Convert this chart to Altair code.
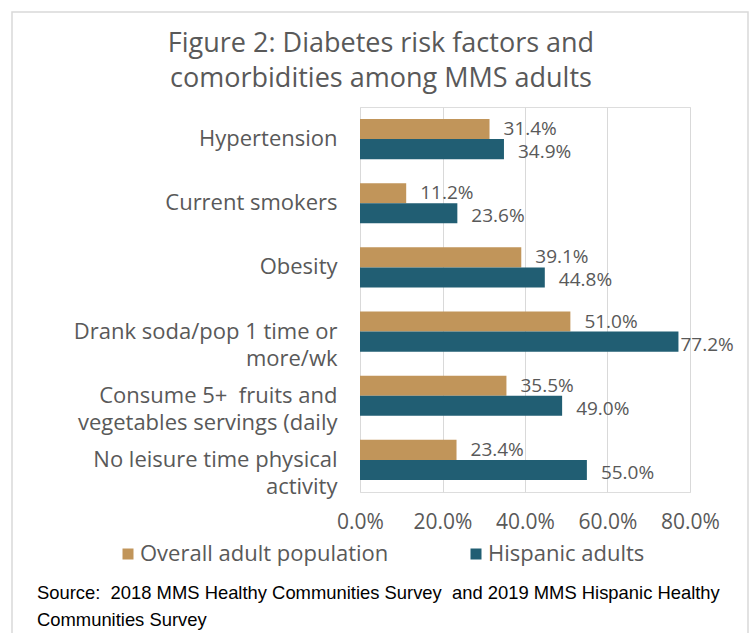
import altair as alt
import pandas as pd

NBSP = "\u00a0"

# Risk factors (top to bottom); "\n" marks a wrapped axis label
categories = [
    "Hypertension",
    "Current smokers",
    "Obesity",
    "Drank soda/pop 1 time or\nmore/wk",
    "Consume 5+ " + NBSP + "fruits and\nvegetables servings (daily",
    "No leisure time physical\nactivity",
]
series_names = ["Overall adult population", "Hispanic adults"]
overall = [0.314, 0.112, 0.391, 0.510, 0.355, 0.234]
hispanic = [0.349, 0.236, 0.448, 0.772, 0.490, 0.550]
x_ticks = [0.0, 0.2, 0.4, 0.6, 0.8]
colors = ["#C1955A", "#215E73"]

title_text = "Figure 2: Diabetes risk factors and\ncomorbidities among MMS adults"
source_text = ("Source: " + NBSP + "2018 MMS Healthy Communities Survey " + NBSP
               + "and 2019 MMS Hispanic Healthy\nCommunities Survey")

rows = []
for cat, a, b in zip(categories, overall, hispanic):
    rows.append({"factor": cat, "series": series_names[0], "value": a})
    rows.append({"factor": cat, "series": series_names[1], "value": b})
df = pd.DataFrame(rows)

GRAY = "#595959"

y_enc = alt.Y(
    "factor:N",
    sort=categories,
    scale=alt.Scale(paddingInner=0.375, paddingOuter=0.1875),
    axis=alt.Axis(
        title=None,
        domain=False,
        ticks=False,
        tickSize=0,
        labelPadding=23,
        labelExpr="split(datum.value, '\\n')",
        labelFont="Open Sans",
        labelFontSize=22,
        labelColor=GRAY,
        labelLineHeight=27,
        labelLimit=400,
    ),
)
x_enc = alt.X(
    "value:Q",
    scale=alt.Scale(domain=[0, 0.8], nice=False),
    axis=alt.Axis(
        title=None,
        values=x_ticks,
        format=".1%",
        domain=False,
        ticks=False,
        tickSize=0,
        labelPadding=19,
        labelOverlap=False,
        labelFlush=False,
        labelFont="Open Sans",
        labelFontSize=21,
        labelColor=GRAY,
        gridColor="#D9D9D9",
        gridWidth=1,
    ),
)
yoff = alt.YOffset("series:N", sort=series_names)

base = alt.Chart(df).encode(y=y_enc, yOffset=yoff)

bars = base.mark_bar().encode(
    x=x_enc,
    color=alt.Color(
        "series:N",
        sort=series_names,
        scale=alt.Scale(domain=series_names, range=colors),
        legend=alt.Legend(
            title=None,
            orient="none",
            direction="horizontal",
            legendX=-243,
            legendY=436,
            symbolType="square",
            symbolSize=121,
            symbolStrokeWidth=0,
            symbolOpacity=1,
            labelFont="Open Sans",
            labelFontSize=22,
            labelColor=GRAY,
            labelOffset=1,
            labelLimit=400,
            columnPadding=76,
            padding=0,
        ),
    ),
)


def value_labels(series, dy):
    """Value labels for one series; the longest bar keeps its label tight to the end."""
    style = dict(align="left", baseline="middle", dy=dy, font="Open Sans",
                 fontSize=19, color=GRAY)
    sub = base.transform_filter(alt.datum.series == series)
    far = sub.transform_filter("datum.value < 0.7").mark_text(dx=14, **style)
    near = sub.transform_filter("datum.value >= 0.7").mark_text(dx=2, **style)
    enc = dict(x="value:Q", text=alt.Text("value:Q", format=".1%"))
    return [far.encode(**enc), near.encode(**enc)]


labels = value_labels(series_names[0], 0) + value_labels(series_names[1], 3)

frame = alt.Chart(alt.Data(values=[{}])).mark_rect(
    fill=None, stroke="#D9D9D9", strokeWidth=1.5
).encode(x=alt.value(-348), x2=alt.value(388), y=alt.value(-95), y2=alt.value(560))

title = alt.Chart(alt.Data(values=[{}])).mark_text(
    align="center", baseline="alphabetic", font="Open Sans", fontSize=27,
    color=GRAY, lineBreak="\n", lineHeight=35,
).encode(x=alt.value(21), y=alt.value(-55), text=alt.value(title_text))

source = alt.Chart(alt.Data(values=[{}])).mark_text(
    align="left", baseline="middle", font="Liberation Sans", fontSize=18.4,
    color="#000000", lineBreak="\n", lineHeight=27,
).encode(x=alt.value(-323), y=alt.value(486), text=alt.value(source_text))

chart = alt.layer(frame, title, bars, *labels, source).properties(
    width=330,
    height=385,
    padding={"left": 360, "top": 107, "right": 63, "bottom": 141},
    autosize=alt.AutoSizeParams(type="none"),
).configure_view(stroke=None).configure(background="white")

chart.save("out.html", embed_options={"renderer": "svg", "actions": False})
